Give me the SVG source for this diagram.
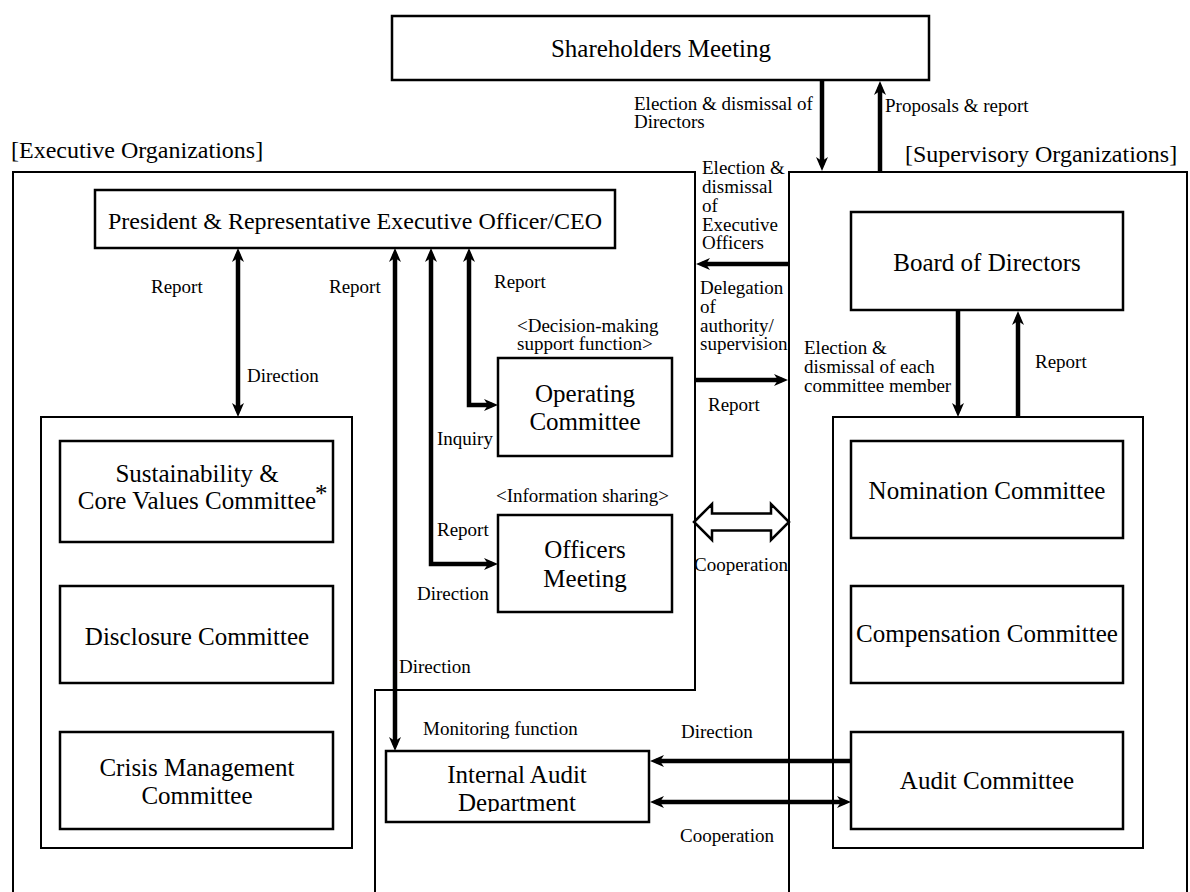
<svg xmlns="http://www.w3.org/2000/svg" width="1190" height="892" viewBox="0 0 1190 892" font-family="'Liberation Serif', 'Times New Roman', Times, 'DejaVu Serif', serif">
<style>
  text { font-family: "Liberation Serif", "Times New Roman", Times, "DejaVu Serif", serif; fill: #000; }
  .box { fill: #fff; stroke: #000; stroke-width: 2.5; }
  .region { fill: none; stroke: #000; stroke-width: 2; }
  .t { font-size: 25px; text-anchor: middle; }
  .ceo { font-size: 24px; text-anchor: middle; }
  .hdr { font-size: 24px; }
  .lbl { font-size: 19px; }
  .arr { fill: none; stroke: #000; stroke-width: 4.5; marker-end: url(#ah); }
  .arr2 { fill: none; stroke: #000; stroke-width: 4.5; marker-end: url(#ah); marker-start: url(#ah); }
</style>
<defs>
  <marker id="ah" viewBox="0 0 14 12" markerWidth="14" markerHeight="12" refX="8" refY="6" orient="auto-start-reverse" markerUnits="userSpaceOnUse">
    <path d="M0,0 L14,6 L0,12 L4,6 z" fill="#000"/>
  </marker>
  <clipPath id="iadclip"><rect x="386" y="751" width="263" height="61"/></clipPath>
</defs>

<g id="regions">
  <path class="region" d="M13,892 V172 H695 V690 H375 V892"/>
  <path class="region" d="M789,892 V172 H1187 V892"/>
  <text class="hdr" x="11" y="158">[Executive Organizations]</text>
  <text class="hdr" x="905" y="162">[Supervisory Organizations]</text>
</g>

<g id="shareholders">
  <rect class="box" x="392" y="16" width="537" height="64"/>
  <text class="t" x="661" y="57">Shareholders Meeting</text>
</g>

<g id="ceo">
  <rect class="box" x="95" y="190" width="520" height="58"/>
  <text class="ceo" x="355" y="229">President &amp; Representative Executive Officer/CEO</text>
</g>

<g id="exec-committees">
  <rect class="region" x="41" y="417" width="311" height="431"/>
</g>
<g id="sustainability">
  <rect class="box" x="60" y="441" width="273" height="101"/>
  <text class="t" x="197" y="482">Sustainability &amp;</text>
  <text class="t" x="197" y="509">Core Values Committee</text>
  <text x="315" y="502" style="font-size:25px">*</text>
</g>
<g id="disclosure">
  <rect class="box" x="60" y="586" width="273" height="97"/>
  <text class="t" x="197" y="645">Disclosure Committee</text>
</g>
<g id="crisis">
  <rect class="box" x="60" y="732" width="273" height="97"/>
  <text class="t" x="197" y="776">Crisis Management</text>
  <text class="t" x="197" y="804">Committee</text>
</g>

<g id="operating">
  <text class="lbl" x="517" y="332">&lt;Decision-making</text>
  <text class="lbl" x="517" y="350">support function&gt;</text>
  <rect class="box" x="498" y="358" width="174" height="98"/>
  <text class="t" x="585" y="402">Operating</text>
  <text class="t" x="585" y="430">Committee</text>
</g>

<g id="officers">
  <text class="lbl" x="496" y="502">&lt;Information sharing&gt;</text>
  <rect class="box" x="498" y="515" width="174" height="97"/>
  <text class="t" x="585" y="558">Officers</text>
  <text class="t" x="585" y="587">Meeting</text>
</g>

<g id="internal-audit">
  <rect class="box" x="386" y="751" width="263" height="71"/>
  <g clip-path="url(#iadclip)">
    <text class="t" x="517" y="783">Internal Audit</text>
    <text class="t" x="517" y="811">Department</text>
  </g>
</g>

<g id="board">
  <rect class="box" x="851" y="212" width="272" height="98"/>
  <text class="t" x="987" y="271">Board of Directors</text>
</g>

<g id="sup-committees">
  <rect class="region" x="833" y="417" width="310" height="431"/>
</g>
<g id="nomination">
  <rect class="box" x="851" y="441" width="272" height="97"/>
  <text class="t" x="987" y="499">Nomination Committee</text>
</g>
<g id="compensation">
  <rect class="box" x="851" y="586" width="272" height="97"/>
  <text class="t" x="987" y="642">Compensation Committee</text>
</g>
<g id="audit">
  <rect class="box" x="851" y="732" width="272" height="97"/>
  <text class="t" x="987" y="789">Audit Committee</text>
</g>

<g id="connectors">
  <line class="arr" x1="822" y1="80" x2="822" y2="165"/>
  <line class="arr" x1="880" y1="172" x2="880" y2="87"/>
  <line class="arr" x1="789" y1="264" x2="702" y2="264"/>
  <line class="arr" x1="695" y1="380" x2="782" y2="380"/>
  <polygon points="694,522 712,504 712,513.5 771,513.5 771,504 789,522 771,540 771,530.5 712,530.5 712,540" fill="#fff" stroke="#000" stroke-width="2.5" stroke-linejoin="miter"/>
  <line class="arr2" x1="238" y1="254" x2="238" y2="411"/>
  <line class="arr2" x1="395" y1="254" x2="395" y2="745"/>
  <path class="arr2" d="M431,254 V564 H492"/>
  <path class="arr2" d="M469,254 V405 H492"/>
  <line class="arr" x1="958" y1="310" x2="958" y2="411"/>
  <line class="arr" x1="1018" y1="417" x2="1018" y2="317"/>
  <line class="arr" x1="851" y1="761" x2="656" y2="761"/>
  <line class="arr2" x1="656" y1="802" x2="845" y2="802"/>

  <text class="lbl" x="634" y="110">Election &amp; dismissal of</text>
  <text class="lbl" x="634" y="128">Directors</text>
  <text class="lbl" x="885" y="112">Proposals &amp; report</text>
  <text class="lbl" x="702" y="174">Election &amp;</text>
  <text class="lbl" x="702" y="193">dismissal</text>
  <text class="lbl" x="702" y="212">of</text>
  <text class="lbl" x="702" y="231">Executive</text>
  <text class="lbl" x="702" y="249">Officers</text>
  <text class="lbl" x="700" y="294">Delegation</text>
  <text class="lbl" x="700" y="313">of</text>
  <text class="lbl" x="700" y="332">authority/</text>
  <text class="lbl" x="700" y="350">supervision</text>
  <text class="lbl" x="708" y="411">Report</text>
  <text class="lbl" x="694" y="571">Cooperation</text>
  <text class="lbl" x="804" y="354">Election &amp;</text>
  <text class="lbl" x="804" y="373">dismissal of each</text>
  <text class="lbl" x="804" y="392">committee member</text>
  <text class="lbl" x="1035" y="368">Report</text>
  <text class="lbl" x="151" y="293">Report</text>
  <text class="lbl" x="247" y="382">Direction</text>
  <text class="lbl" x="329" y="293">Report</text>
  <text class="lbl" x="494" y="288">Report</text>
  <text class="lbl" x="437" y="445">Inquiry</text>
  <text class="lbl" x="437" y="536">Report</text>
  <text class="lbl" x="417" y="600">Direction</text>
  <text class="lbl" x="399" y="673">Direction</text>
  <text class="lbl" x="423" y="735">Monitoring function</text>
  <text class="lbl" x="681" y="738">Direction</text>
  <text class="lbl" x="680" y="842">Cooperation</text>
</g>
</svg>
